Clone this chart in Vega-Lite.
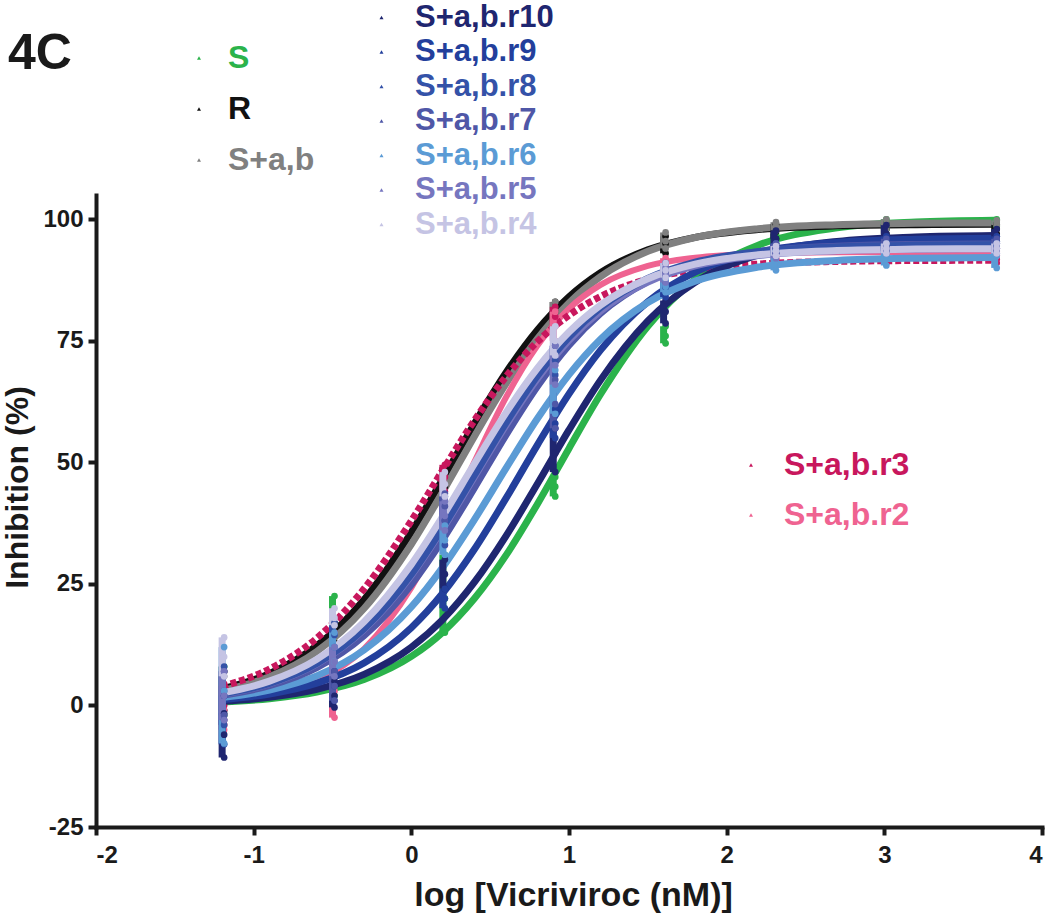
{
  "$schema": "https://vega.github.io/schema/vega-lite/v6.json",
  "width": 946,
  "height": 632,
  "autosize": {"type": "none"},
  "padding": {"left": 96, "top": 195, "right": 8, "bottom": 91},
  "background": "white",
  "title": {"text": "4C", "anchor": "start", "frame": "group", "fontSize": 50, "font": "Liberation Sans", "fontWeight": "bold", "color": "#1a1a1a", "dx": -88, "offset": -117, "baseline": "alphabetic"},
  "config": {
    "view": {"stroke": null},
    "axis": {"grid": false, "domainWidth": 4, "domainColor": "#1a1a1a", "tickColor": "#1a1a1a", "tickWidth": 4, "tickSize": 8, "labelFont": "Liberation Sans", "labelFontSize": 24, "labelFontWeight": "bold", "labelColor": "#1a1a1a", "titleFont": "Liberation Sans", "titleFontSize": 32, "titleFontWeight": "bold", "titleColor": "#1a1a1a", "domainCap": "square", "labelExpr": "replace(datum.label, '\u2212', '-')"},
    "axisX": {"labelPadding": 8, "titleX": 477, "titleY": 78, "titleBaseline": "alphabetic", "titleFontSize": 34},
    "axisY": {"labelPadding": 5, "titleX": -69, "titleY": 292, "titleBaseline": "alphabetic"}
  },
  "datasets": {
    "curves": [
      {"s":"S","x":-1.2,"v":0.70},{"s":"S","x":-0.9,"v":1.39},{"s":"S","x":-0.6,"v":2.74},{"s":"S","x":-0.3,"v":5.32},{"s":"S","x":0,"v":10.09},{"s":"S","x":0.2,"v":15.10},{"s":"S","x":0.4,"v":21.99},{"s":"S","x":0.6,"v":30.87},{"s":"S","x":0.8,"v":41.45},{"s":"S","x":1.0,"v":52.88},{"s":"S","x":1.2,"v":64.01},{"s":"S","x":1.5,"v":78.01},{"s":"S","x":1.8,"v":87.62},{"s":"S","x":2.2,"v":94.68},{"s":"S","x":2.7,"v":98.25},{"s":"S","x":3.2,"v":99.44},{"s":"S","x":3.7,"v":99.82},
      {"s":"R","x":-1.2,"v":3.40},{"s":"R","x":-0.9,"v":6.54},{"s":"R","x":-0.6,"v":12.26},{"s":"R","x":-0.3,"v":21.77},{"s":"R","x":0,"v":35.63},{"s":"R","x":0.2,"v":46.65},{"s":"R","x":0.4,"v":57.96},{"s":"R","x":0.6,"v":68.44},{"s":"R","x":0.8,"v":77.23},{"s":"R","x":1.0,"v":84.05},{"s":"R","x":1.2,"v":89.01},{"s":"R","x":1.5,"v":93.73},{"s":"R","x":1.8,"v":96.29},{"s":"R","x":2.2,"v":97.90},{"s":"R","x":2.7,"v":98.65},{"s":"R","x":3.2,"v":98.89},{"s":"R","x":3.7,"v":98.96},
      {"s":"S+a,b","x":-1.2,"v":3.05},{"s":"S+a,b","x":-0.9,"v":5.89},{"s":"S+a,b","x":-0.6,"v":11.10},{"s":"S+a,b","x":-0.3,"v":19.94},{"s":"S+a,b","x":0,"v":33.16},{"s":"S+a,b","x":0.2,"v":43.96},{"s":"S+a,b","x":0.4,"v":55.34},{"s":"S+a,b","x":0.6,"v":66.14},{"s":"S+a,b","x":0.8,"v":75.44},{"s":"S+a,b","x":1.0,"v":82.79},{"s":"S+a,b","x":1.2,"v":88.20},{"s":"S+a,b","x":1.5,"v":93.41},{"s":"S+a,b","x":1.8,"v":96.25},{"s":"S+a,b","x":2.2,"v":98.07},{"s":"S+a,b","x":2.7,"v":98.90},{"s":"S+a,b","x":3.2,"v":99.17},{"s":"S+a,b","x":3.7,"v":99.26},
      {"s":"S+a,b.r3","x":-1.2,"v":3.92},{"s":"S+a,b.r3","x":-0.9,"v":7.49},{"s":"S+a,b.r3","x":-0.6,"v":13.83},{"s":"S+a,b.r3","x":-0.3,"v":23.99},{"s":"S+a,b.r3","x":0,"v":37.97},{"s":"S+a,b.r3","x":0.2,"v":48.44},{"s":"S+a,b.r3","x":0.4,"v":58.63},{"s":"S+a,b.r3","x":0.6,"v":67.61},{"s":"S+a,b.r3","x":0.8,"v":74.85},{"s":"S+a,b.r3","x":1.0,"v":80.26},{"s":"S+a,b.r3","x":1.2,"v":84.11},{"s":"S+a,b.r3","x":1.5,"v":87.68},{"s":"S+a,b.r3","x":1.8,"v":89.59},{"s":"S+a,b.r3","x":2.2,"v":90.79},{"s":"S+a,b.r3","x":2.7,"v":91.34},{"s":"S+a,b.r3","x":3.2,"v":91.52},{"s":"S+a,b.r3","x":3.7,"v":91.57},
      {"s":"S+a,b.r2","x":-1.2,"v":0.90},{"s":"S+a,b.r2","x":-0.9,"v":2.16},{"s":"S+a,b.r2","x":-0.6,"v":5.13},{"s":"S+a,b.r2","x":-0.3,"v":11.66},{"s":"S+a,b.r2","x":0,"v":24.23},{"s":"S+a,b.r2","x":0.2,"v":36.35},{"s":"S+a,b.r2","x":0.4,"v":50.13},{"s":"S+a,b.r2","x":0.6,"v":63.34},{"s":"S+a,b.r2","x":0.8,"v":74.04},{"s":"S+a,b.r2","x":1.0,"v":81.64},{"s":"S+a,b.r2","x":1.2,"v":86.51},{"s":"S+a,b.r2","x":1.5,"v":90.41},{"s":"S+a,b.r2","x":1.8,"v":92.10},{"s":"S+a,b.r2","x":2.2,"v":92.94},{"s":"S+a,b.r2","x":2.7,"v":93.22},{"s":"S+a,b.r2","x":3.2,"v":93.29},{"s":"S+a,b.r2","x":3.7,"v":93.30},
      {"s":"S+a,b.r10","x":-1.2,"v":0.85},{"s":"S+a,b.r10","x":-0.9,"v":1.69},{"s":"S+a,b.r10","x":-0.6,"v":3.32},{"s":"S+a,b.r10","x":-0.3,"v":6.40},{"s":"S+a,b.r10","x":0,"v":11.98},{"s":"S+a,b.r10","x":0.2,"v":17.70},{"s":"S+a,b.r10","x":0.4,"v":25.35},{"s":"S+a,b.r10","x":0.6,"v":34.84},{"s":"S+a,b.r10","x":0.8,"v":45.61},{"s":"S+a,b.r10","x":1.0,"v":56.68},{"s":"S+a,b.r10","x":1.2,"v":66.92},{"s":"S+a,b.r10","x":1.5,"v":79.10},{"s":"S+a,b.r10","x":1.8,"v":87.03},{"s":"S+a,b.r10","x":2.2,"v":92.66},{"s":"S+a,b.r10","x":2.7,"v":95.45},{"s":"S+a,b.r10","x":3.2,"v":96.36},{"s":"S+a,b.r10","x":3.7,"v":96.66},
      {"s":"S+a,b.r9","x":-1.2,"v":1.19},{"s":"S+a,b.r9","x":-0.9,"v":2.36},{"s":"S+a,b.r9","x":-0.6,"v":4.59},{"s":"S+a,b.r9","x":-0.3,"v":8.74},{"s":"S+a,b.r9","x":0,"v":16.00},{"s":"S+a,b.r9","x":0.2,"v":23.12},{"s":"S+a,b.r9","x":0.4,"v":32.12},{"s":"S+a,b.r9","x":0.6,"v":42.59},{"s":"S+a,b.r9","x":0.8,"v":53.61},{"s":"S+a,b.r9","x":1.0,"v":64.08},{"s":"S+a,b.r9","x":1.2,"v":73.08},{"s":"S+a,b.r9","x":1.5,"v":83.04},{"s":"S+a,b.r9","x":1.8,"v":89.12},{"s":"S+a,b.r9","x":2.2,"v":93.25},{"s":"S+a,b.r9","x":2.7,"v":95.25},{"s":"S+a,b.r9","x":3.2,"v":95.89},{"s":"S+a,b.r9","x":3.7,"v":96.10},
      {"s":"S+a,b.r6","x":-1.2,"v":1.61},{"s":"S+a,b.r6","x":-0.9,"v":3.16},{"s":"S+a,b.r6","x":-0.6,"v":6.09},{"s":"S+a,b.r6","x":-0.3,"v":11.41},{"s":"S+a,b.r6","x":0,"v":20.27},{"s":"S+a,b.r6","x":0.2,"v":28.46},{"s":"S+a,b.r6","x":0.4,"v":38.22},{"s":"S+a,b.r6","x":0.6,"v":48.76},{"s":"S+a,b.r6","x":0.8,"v":59.02},{"s":"S+a,b.r6","x":1.0,"v":68.05},{"s":"S+a,b.r6","x":1.2,"v":75.34},{"s":"S+a,b.r6","x":1.5,"v":82.90},{"s":"S+a,b.r6","x":1.8,"v":87.29},{"s":"S+a,b.r6","x":2.2,"v":90.18},{"s":"S+a,b.r6","x":2.7,"v":91.55},{"s":"S+a,b.r6","x":3.2,"v":92.00},{"s":"S+a,b.r6","x":3.7,"v":92.14},
      {"s":"S+a,b.r7","x":-1.2,"v":2.08},{"s":"S+a,b.r7","x":-0.9,"v":4.07},{"s":"S+a,b.r7","x":-0.6,"v":7.77},{"s":"S+a,b.r7","x":-0.3,"v":14.35},{"s":"S+a,b.r7","x":0,"v":24.88},{"s":"S+a,b.r7","x":0.2,"v":34.19},{"s":"S+a,b.r7","x":0.4,"v":44.76},{"s":"S+a,b.r7","x":0.6,"v":55.62},{"s":"S+a,b.r7","x":0.8,"v":65.67},{"s":"S+a,b.r7","x":1.0,"v":74.11},{"s":"S+a,b.r7","x":1.2,"v":80.66},{"s":"S+a,b.r7","x":1.5,"v":87.23},{"s":"S+a,b.r7","x":1.8,"v":90.93},{"s":"S+a,b.r7","x":2.2,"v":93.34},{"s":"S+a,b.r7","x":2.7,"v":94.47},{"s":"S+a,b.r7","x":3.2,"v":94.83},{"s":"S+a,b.r7","x":3.7,"v":94.94},
      {"s":"S+a,b.r5","x":-1.2,"v":2.30},{"s":"S+a,b.r5","x":-0.9,"v":4.48},{"s":"S+a,b.r5","x":-0.6,"v":8.54},{"s":"S+a,b.r5","x":-0.3,"v":15.63},{"s":"S+a,b.r5","x":0,"v":26.76},{"s":"S+a,b.r5","x":0.2,"v":36.37},{"s":"S+a,b.r5","x":0.4,"v":47.00},{"s":"S+a,b.r5","x":0.6,"v":57.63},{"s":"S+a,b.r5","x":0.8,"v":67.24},{"s":"S+a,b.r5","x":1.0,"v":75.12},{"s":"S+a,b.r5","x":1.2,"v":81.14},{"s":"S+a,b.r5","x":1.5,"v":87.08},{"s":"S+a,b.r5","x":1.8,"v":90.40},{"s":"S+a,b.r5","x":2.2,"v":92.53},{"s":"S+a,b.r5","x":2.7,"v":93.53},{"s":"S+a,b.r5","x":3.2,"v":93.85},{"s":"S+a,b.r5","x":3.7,"v":93.95},
      {"s":"S+a,b.r8","x":-1.2,"v":2.32},{"s":"S+a,b.r8","x":-0.9,"v":4.52},{"s":"S+a,b.r8","x":-0.6,"v":8.62},{"s":"S+a,b.r8","x":-0.3,"v":15.77},{"s":"S+a,b.r8","x":0,"v":26.99},{"s":"S+a,b.r8","x":0.2,"v":36.68},{"s":"S+a,b.r8","x":0.4,"v":47.40},{"s":"S+a,b.r8","x":0.6,"v":58.12},{"s":"S+a,b.r8","x":0.8,"v":67.81},{"s":"S+a,b.r8","x":1.0,"v":75.76},{"s":"S+a,b.r8","x":1.2,"v":81.83},{"s":"S+a,b.r8","x":1.5,"v":87.82},{"s":"S+a,b.r8","x":1.8,"v":91.17},{"s":"S+a,b.r8","x":2.2,"v":93.32},{"s":"S+a,b.r8","x":2.7,"v":94.33},{"s":"S+a,b.r8","x":3.2,"v":94.65},{"s":"S+a,b.r8","x":3.7,"v":94.75},
      {"s":"S+a,b.r4","x":-1.2,"v":2.58},{"s":"S+a,b.r4","x":-0.9,"v":5.00},{"s":"S+a,b.r4","x":-0.6,"v":9.48},{"s":"S+a,b.r4","x":-0.3,"v":17.19},{"s":"S+a,b.r4","x":0,"v":29.02},{"s":"S+a,b.r4","x":0.2,"v":38.96},{"s":"S+a,b.r4","x":0.4,"v":49.71},{"s":"S+a,b.r4","x":0.6,"v":60.17},{"s":"S+a,b.r4","x":0.8,"v":69.38},{"s":"S+a,b.r4","x":1.0,"v":76.81},{"s":"S+a,b.r4","x":1.2,"v":82.36},{"s":"S+a,b.r4","x":1.5,"v":87.79},{"s":"S+a,b.r4","x":1.8,"v":90.78},{"s":"S+a,b.r4","x":2.2,"v":92.69},{"s":"S+a,b.r4","x":2.7,"v":93.58},{"s":"S+a,b.r4","x":3.2,"v":93.87},{"s":"S+a,b.r4","x":3.7,"v":93.96}
    ],
    "pts": [
      {"s":"S","x":-1.2,"lo":-2,"m":1,"hi":8},{"s":"S","x":-0.5,"lo":2,"m":10,"hi":22.5},{"s":"S","x":0.2,"lo":15,"m":22,"hi":31},{"s":"S","x":0.9,"lo":43,"m":45,"hi":47},{"s":"S","x":1.6,"lo":74.5,"m":76,"hi":78},{"s":"S","x":2.3,"lo":95,"m":96,"hi":97},{"s":"S","x":3.0,"lo":98,"m":99,"hi":100},{"s":"S","x":3.7,"lo":98.5,"m":99.5,"hi":100},
      {"s":"R","x":-1.2,"lo":-1,"m":3,"hi":7},{"s":"R","x":-0.5,"lo":8,"m":13,"hi":17},{"s":"R","x":0.2,"lo":40,"m":45,"hi":49},{"s":"R","x":0.9,"lo":79,"m":81,"hi":83},{"s":"R","x":1.6,"lo":93,"m":95,"hi":96.5},{"s":"R","x":2.3,"lo":96,"m":97.5,"hi":99},{"s":"R","x":3.0,"lo":97,"m":98,"hi":99},{"s":"R","x":3.7,"lo":97,"m":98,"hi":99},
      {"s":"S+a,b","x":-1.2,"lo":-2,"m":2,"hi":6},{"s":"S+a,b","x":-0.5,"lo":6,"m":10,"hi":14},{"s":"S+a,b","x":0.2,"lo":38,"m":42,"hi":46},{"s":"S+a,b","x":0.9,"lo":79,"m":81,"hi":83},{"s":"S+a,b","x":1.6,"lo":94,"m":95.5,"hi":97.3},{"s":"S+a,b","x":2.3,"lo":97.7,"m":98.5,"hi":99.4},{"s":"S+a,b","x":3.0,"lo":98,"m":99,"hi":100},{"s":"S+a,b","x":3.7,"lo":98.8,"m":99.3,"hi":99.8},
      {"s":"S+a,b.r3","x":-1.2,"lo":-4,"m":0,"hi":4},{"s":"S+a,b.r3","x":-0.5,"lo":6,"m":11,"hi":15},{"s":"S+a,b.r3","x":0.2,"lo":44,"m":47,"hi":49.5},{"s":"S+a,b.r3","x":0.9,"lo":78,"m":80,"hi":82},{"s":"S+a,b.r3","x":1.6,"lo":88,"m":89,"hi":90},{"s":"S+a,b.r3","x":2.3,"lo":91,"m":91.5,"hi":92},{"s":"S+a,b.r3","x":3.0,"lo":91,"m":91.5,"hi":92},{"s":"S+a,b.r3","x":3.7,"lo":91,"m":91.8,"hi":92.5},
      {"s":"S+a,b.r2","x":-1.2,"lo":-5,"m":-3,"hi":-1},{"s":"S+a,b.r2","x":-0.5,"lo":-2.5,"m":3,"hi":9},{"s":"S+a,b.r2","x":0.2,"lo":33,"m":37,"hi":41},{"s":"S+a,b.r2","x":0.9,"lo":75,"m":78,"hi":81},{"s":"S+a,b.r2","x":1.6,"lo":90,"m":91,"hi":92},{"s":"S+a,b.r2","x":2.3,"lo":92.5,"m":93,"hi":93.5},{"s":"S+a,b.r2","x":3.0,"lo":92.5,"m":93,"hi":93.5},{"s":"S+a,b.r2","x":3.7,"lo":92.5,"m":93.3,"hi":94},
      {"s":"S+a,b.r10","x":-1.2,"lo":-10.7,"m":-6,"hi":-1.6},{"s":"S+a,b.r10","x":-0.5,"lo":-0.4,"m":2,"hi":5},{"s":"S+a,b.r10","x":0.2,"lo":24,"m":27,"hi":30},{"s":"S+a,b.r10","x":0.9,"lo":48,"m":52,"hi":57},{"s":"S+a,b.r10","x":1.6,"lo":78.6,"m":81,"hi":83.3},{"s":"S+a,b.r10","x":2.3,"lo":94,"m":96,"hi":97.7},{"s":"S+a,b.r10","x":3.0,"lo":95.7,"m":97,"hi":98.8},{"s":"S+a,b.r10","x":3.7,"lo":95,"m":96.5,"hi":98},
      {"s":"S+a,b.r9","x":-1.2,"lo":-8,"m":-3,"hi":2},{"s":"S+a,b.r9","x":-0.5,"lo":1,"m":4,"hi":7},{"s":"S+a,b.r9","x":0.2,"lo":20,"m":22,"hi":24},{"s":"S+a,b.r9","x":0.9,"lo":55,"m":58,"hi":61},{"s":"S+a,b.r9","x":1.6,"lo":84,"m":86,"hi":88},{"s":"S+a,b.r9","x":2.3,"lo":93,"m":94,"hi":95},{"s":"S+a,b.r9","x":3.0,"lo":94.5,"m":95.5,"hi":96.5},{"s":"S+a,b.r9","x":3.7,"lo":94,"m":95.5,"hi":96.5},
      {"s":"S+a,b.r8","x":-1.2,"lo":-4,"m":2,"hi":8},{"s":"S+a,b.r8","x":-0.5,"lo":12,"m":14.5,"hi":17},{"s":"S+a,b.r8","x":0.2,"lo":33,"m":38,"hi":43},{"s":"S+a,b.r8","x":0.9,"lo":68,"m":71,"hi":74},{"s":"S+a,b.r8","x":1.6,"lo":88,"m":89.5,"hi":91},{"s":"S+a,b.r8","x":2.3,"lo":93,"m":94,"hi":95},{"s":"S+a,b.r8","x":3.0,"lo":93.5,"m":94.5,"hi":95.5},{"s":"S+a,b.r8","x":3.7,"lo":93.5,"m":94.5,"hi":95.5},
      {"s":"S+a,b.r7","x":-1.2,"lo":-2,"m":3,"hi":7},{"s":"S+a,b.r7","x":-0.5,"lo":1,"m":4,"hi":7},{"s":"S+a,b.r7","x":0.2,"lo":38,"m":41,"hi":43.6},{"s":"S+a,b.r7","x":0.9,"lo":57,"m":62,"hi":67},{"s":"S+a,b.r7","x":1.6,"lo":87,"m":89,"hi":91},{"s":"S+a,b.r7","x":2.3,"lo":93,"m":94,"hi":95},{"s":"S+a,b.r7","x":3.0,"lo":94,"m":95,"hi":96},{"s":"S+a,b.r7","x":3.7,"lo":94,"m":95,"hi":96},
      {"s":"S+a,b.r6","x":-1.2,"lo":-7.8,"m":3,"hi":12},{"s":"S+a,b.r6","x":-0.5,"lo":9,"m":12,"hi":15},{"s":"S+a,b.r6","x":0.2,"lo":31,"m":34,"hi":37},{"s":"S+a,b.r6","x":0.9,"lo":60,"m":65,"hi":69},{"s":"S+a,b.r6","x":1.6,"lo":85,"m":86.2,"hi":87.5},{"s":"S+a,b.r6","x":2.3,"lo":89.5,"m":91.5,"hi":93.6},{"s":"S+a,b.r6","x":3.0,"lo":90.5,"m":92.5,"hi":95},{"s":"S+a,b.r6","x":3.7,"lo":90,"m":92.5,"hi":95},
      {"s":"S+a,b.r5","x":-1.2,"lo":-3,"m":2,"hi":7},{"s":"S+a,b.r5","x":-0.5,"lo":6,"m":9,"hi":12},{"s":"S+a,b.r5","x":0.2,"lo":36,"m":39,"hi":42},{"s":"S+a,b.r5","x":0.9,"lo":66,"m":70,"hi":74},{"s":"S+a,b.r5","x":1.6,"lo":87,"m":88.5,"hi":90},{"s":"S+a,b.r5","x":2.3,"lo":92,"m":93,"hi":94},{"s":"S+a,b.r5","x":3.0,"lo":93,"m":94,"hi":95},{"s":"S+a,b.r5","x":3.7,"lo":93,"m":94,"hi":95},
      {"s":"S+a,b.r4","x":-1.2,"lo":6,"m":10,"hi":14},{"s":"S+a,b.r4","x":-0.5,"lo":16.5,"m":18,"hi":20},{"s":"S+a,b.r4","x":0.2,"lo":43,"m":45.5,"hi":48},{"s":"S+a,b.r4","x":0.9,"lo":72,"m":75,"hi":78},{"s":"S+a,b.r4","x":1.6,"lo":88,"m":89.5,"hi":91},{"s":"S+a,b.r4","x":2.3,"lo":92.5,"m":93.5,"hi":94.5},{"s":"S+a,b.r4","x":3.0,"lo":93,"m":94,"hi":95},{"s":"S+a,b.r4","x":3.7,"lo":93,"m":94,"hi":95}
    ]
  },
  "encoding": {
    "x": {"field": "x", "type": "quantitative", "scale": {"domain": [-2, 4], "nice": false}, "axis": {"values": [-2, -1, 0, 1, 2, 3, 4]}, "title": "log [Vicriviroc (nM)]"}
  },
  "layer": [
    {
      "encoding": {
        "color": {"field": "s", "type": "nominal",
          "scale": {"domain": ["S", "R", "S+a,b"], "range": ["#2bb34b", "#111111", "#808080"]},
          "legend": {"orient": "none", "legendX": 87, "legendY": -153, "title": null, "symbolType": "triangle-up", "symbolSize": 16, "symbolStrokeWidth": 0, "labelFont": "Liberation Sans", "labelFontSize": 32, "labelFontWeight": "bold", "labelOffset": 13, "rowPadding": 19, "padding": 0,
            "encode": {"labels": {"update": {"fill": {"signal": "datum.value === 'S' ? '#2bb34b' : datum.value === 'R' ? '#111111' : '#808080'"}}},
                       "symbols": {"update": {"fill": {"signal": "datum.value === 'S' ? '#2bb34b' : datum.value === 'R' ? '#111111' : '#808080'"}, "opacity": {"value": 1}}}}}
        }
      },
      "layer": [
        {"data": {"name": "curves"}, "transform": [{"filter": {"field": "s", "oneOf": ["S", "R", "S+a,b"]}}],
         "mark": {"type": "line", "strokeWidth": 7, "interpolate": "monotone"},
         "encoding": {"y": {"field": "v", "type": "quantitative", "scale": {"domain": [-25, 105], "nice": false}, "axis": {"values": [-25, 0, 25, 50, 75, 100]}, "title": "Inhibition (%)"}}},
        {"data": {"name": "pts"}, "transform": [{"filter": {"field": "s", "oneOf": ["S", "R", "S+a,b"]}}],
         "mark": {"type": "rule", "strokeWidth": 7},
         "encoding": {"y": {"field": "lo", "type": "quantitative", "scale": {"domain": [-25, 105], "nice": false}, "title": "Inhibition (%)"}, "y2": {"field": "hi"}}},
        {"data": {"name": "pts"}, "transform": [{"filter": {"field": "s", "oneOf": ["S", "R", "S+a,b"]}}, {"fold": ["lo", "m", "hi"], "as": ["k", "val"]}],
         "mark": {"type": "point", "filled": true, "size": 45, "opacity": 1, "xOffset": 2},
         "encoding": {"y": {"field": "val", "type": "quantitative", "scale": {"domain": [-25, 105], "nice": false}, "title": "Inhibition (%)"}}}
      ]
    },
    {
      "encoding": {
        "color": {"field": "s", "type": "nominal",
          "scale": {"domain": ["S+a,b.r3", "S+a,b.r2"], "range": ["#c8175d", "#ef6391"]},
          "legend": {"orient": "none", "legendX": 639, "legendY": 254, "title": null, "symbolType": "triangle-up", "symbolSize": 16, "symbolStrokeWidth": 0, "labelFont": "Liberation Sans", "labelFontSize": 32, "labelFontWeight": "bold", "labelOffset": 17, "rowPadding": 18, "padding": 0,
            "encode": {"labels": {"update": {"fill": {"signal": "datum.value === 'S+a,b.r3' ? '#c8175d' : '#ef6391'"}}},
                       "symbols": {"update": {"fill": {"signal": "datum.value === 'S+a,b.r3' ? '#c8175d' : '#ef6391'"}, "opacity": {"value": 1}}}}}
        }
      },
      "layer": [
        {"data": {"name": "curves"}, "transform": [{"filter": {"field": "s", "equal": "S+a,b.r2"}}],
         "mark": {"type": "line", "strokeWidth": 6, "interpolate": "monotone"},
         "encoding": {"y": {"field": "v", "type": "quantitative", "scale": {"domain": [-25, 105], "nice": false}, "title": "Inhibition (%)"}}},
        {"data": {"name": "curves"}, "transform": [{"filter": {"field": "s", "equal": "S+a,b.r3"}}],
         "mark": {"type": "line", "strokeWidth": 7, "interpolate": "monotone", "strokeDash": [6, 3]},
         "encoding": {"y": {"field": "v", "type": "quantitative", "scale": {"domain": [-25, 105], "nice": false}, "title": "Inhibition (%)"}}},
        {"data": {"name": "pts"}, "transform": [{"filter": {"field": "s", "oneOf": ["S+a,b.r3", "S+a,b.r2"]}}],
         "mark": {"type": "rule", "strokeWidth": 7},
         "encoding": {"y": {"field": "lo", "type": "quantitative", "scale": {"domain": [-25, 105], "nice": false}, "title": "Inhibition (%)"}, "y2": {"field": "hi"}}},
        {"data": {"name": "pts"}, "transform": [{"filter": {"field": "s", "oneOf": ["S+a,b.r3", "S+a,b.r2"]}}, {"fold": ["lo", "m", "hi"], "as": ["k", "val"]}],
         "mark": {"type": "point", "filled": true, "size": 45, "opacity": 1, "xOffset": 2},
         "encoding": {"y": {"field": "val", "type": "quantitative", "scale": {"domain": [-25, 105], "nice": false}, "title": "Inhibition (%)"}}}
      ]
    },
    {
      "encoding": {
        "color": {"field": "s", "type": "nominal",
          "scale": {"domain": ["S+a,b.r10", "S+a,b.r9", "S+a,b.r8", "S+a,b.r7", "S+a,b.r6", "S+a,b.r5", "S+a,b.r4"], "range": ["#1f2670", "#233f9c", "#3452a8", "#4f57a7", "#5b9bd5", "#7676bf", "#c5c4e4"]},
          "legend": {"orient": "none", "legendX": 270, "legendY": -193, "title": null, "symbolType": "triangle-up", "symbolSize": 16, "symbolStrokeWidth": 0, "labelFont": "Liberation Sans", "labelFontSize": 31, "labelFontWeight": "bold", "labelOffset": 18, "rowPadding": 2.5, "padding": 0,
            "encode": {"labels": {"update": {"fill": {"signal": "datum.value === 'S+a,b.r10' ? '#1f2670' : datum.value === 'S+a,b.r9' ? '#233f9c' : datum.value === 'S+a,b.r8' ? '#3452a8' : datum.value === 'S+a,b.r7' ? '#4f57a7' : datum.value === 'S+a,b.r6' ? '#5b9bd5' : datum.value === 'S+a,b.r5' ? '#7676bf' : '#c5c4e4'"}}},
                       "symbols": {"update": {"fill": {"signal": "datum.value === 'S+a,b.r10' ? '#1f2670' : datum.value === 'S+a,b.r9' ? '#233f9c' : datum.value === 'S+a,b.r8' ? '#3452a8' : datum.value === 'S+a,b.r7' ? '#4f57a7' : datum.value === 'S+a,b.r6' ? '#5b9bd5' : datum.value === 'S+a,b.r5' ? '#7676bf' : '#c5c4e4'"}, "opacity": {"value": 1}}}}}
        }
      },
      "layer": [
        {"data": {"name": "curves"}, "transform": [{"filter": {"field": "s", "oneOf": ["S+a,b.r10", "S+a,b.r9", "S+a,b.r6", "S+a,b.r7", "S+a,b.r5", "S+a,b.r8", "S+a,b.r4"]}}],
         "mark": {"type": "line", "strokeWidth": 7, "interpolate": "monotone"},
         "encoding": {"y": {"field": "v", "type": "quantitative", "scale": {"domain": [-25, 105], "nice": false}, "title": "Inhibition (%)"}}},
        {"data": {"name": "pts"}, "transform": [{"filter": {"field": "s", "oneOf": ["S+a,b.r10", "S+a,b.r9", "S+a,b.r6", "S+a,b.r7", "S+a,b.r5", "S+a,b.r8", "S+a,b.r4"]}}],
         "mark": {"type": "rule", "strokeWidth": 7},
         "encoding": {"y": {"field": "lo", "type": "quantitative", "scale": {"domain": [-25, 105], "nice": false}, "title": "Inhibition (%)"}, "y2": {"field": "hi"}}},
        {"data": {"name": "pts"}, "transform": [{"filter": {"field": "s", "oneOf": ["S+a,b.r10", "S+a,b.r9", "S+a,b.r6", "S+a,b.r7", "S+a,b.r5", "S+a,b.r8", "S+a,b.r4"]}}, {"fold": ["lo", "m", "hi"], "as": ["k", "val"]}],
         "mark": {"type": "point", "filled": true, "size": 45, "opacity": 1, "xOffset": 2},
         "encoding": {"y": {"field": "val", "type": "quantitative", "scale": {"domain": [-25, 105], "nice": false}, "title": "Inhibition (%)"}}}
      ]
    }
  ],
  "resolve": {"scale": {"color": "independent"}, "legend": {"color": "independent"}}
}
